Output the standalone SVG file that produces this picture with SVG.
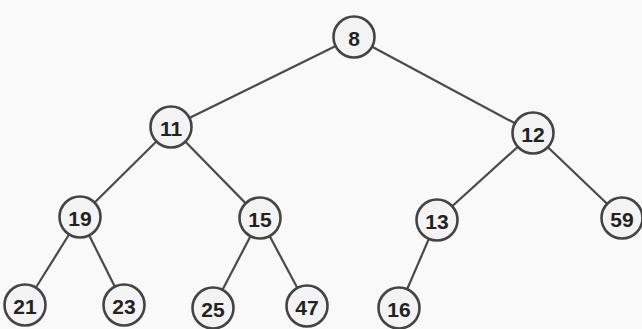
<svg xmlns="http://www.w3.org/2000/svg" width="642" height="329" viewBox="0 0 642 329">
<style>
.bg{fill:#f9f9f9}
.edge{stroke:#4a4a4a;stroke-width:2.2;fill:none}
.node circle{fill:#f3f3f3;stroke:#444;stroke-width:2.6}
.node text{font-family:"Liberation Sans",Arial,sans-serif;font-size:21px;font-weight:bold;fill:#222;text-anchor:middle;dominant-baseline:central}
</style>
<rect class="bg" x="0" y="0" width="642" height="329"/>
<g id="edges">
<line class="edge" x1="354" y1="37" x2="171" y2="127"/>
<line class="edge" x1="354" y1="37" x2="533" y2="133"/>
<line class="edge" x1="171" y1="127" x2="80" y2="217"/>
<line class="edge" x1="171" y1="127" x2="260" y2="218"/>
<line class="edge" x1="533" y1="133" x2="437" y2="220"/>
<line class="edge" x1="533" y1="133" x2="622" y2="218"/>
<line class="edge" x1="80" y1="217" x2="25" y2="305"/>
<line class="edge" x1="80" y1="217" x2="124" y2="305"/>
<line class="edge" x1="260" y1="218" x2="213" y2="308"/>
<line class="edge" x1="260" y1="218" x2="307" y2="306"/>
<line class="edge" x1="437" y1="220" x2="399" y2="308"/>
</g>
<g id="n8" class="node"><circle cx="354" cy="37" r="20.5"/><text x="354" y="38">8</text></g>
<g id="n11" class="node"><circle cx="171" cy="127" r="20.5"/><text x="171" y="128">11</text></g>
<g id="n12" class="node"><circle cx="533" cy="133" r="20.5"/><text x="533" y="134">12</text></g>
<g id="n19" class="node"><circle cx="80" cy="217" r="20.5"/><text x="80" y="218">19</text></g>
<g id="n15" class="node"><circle cx="260" cy="218" r="20.5"/><text x="260" y="219">15</text></g>
<g id="n13" class="node"><circle cx="437" cy="220" r="20.5"/><text x="437" y="221">13</text></g>
<g id="n59" class="node"><circle cx="622" cy="218" r="20.5"/><text x="622" y="219">59</text></g>
<g id="n21" class="node"><circle cx="25" cy="305" r="20.5"/><text x="25" y="306">21</text></g>
<g id="n23" class="node"><circle cx="124" cy="305" r="20.5"/><text x="124" y="306">23</text></g>
<g id="n25" class="node"><circle cx="213" cy="308" r="20.5"/><text x="213" y="309">25</text></g>
<g id="n47" class="node"><circle cx="307" cy="306" r="20.5"/><text x="307" y="307">47</text></g>
<g id="n16" class="node"><circle cx="399" cy="308" r="20.5"/><text x="399" y="309">16</text></g>
</svg>
